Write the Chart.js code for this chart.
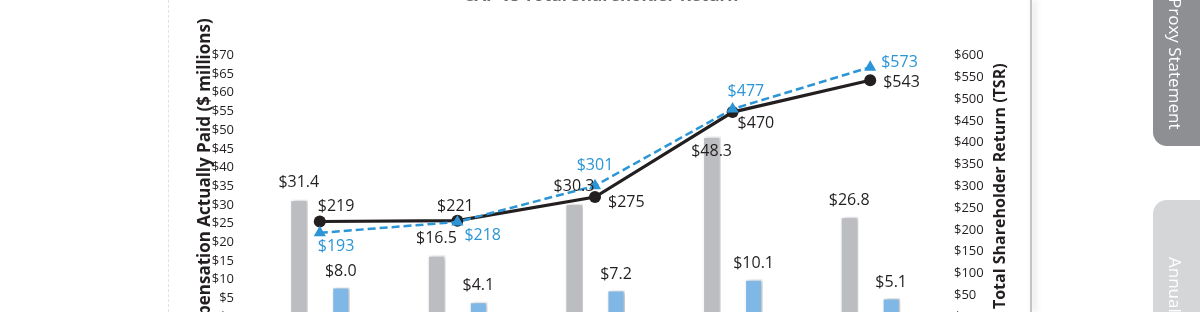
<!DOCTYPE html>
<html>
<head>
<meta charset="utf-8">
<script src="https://cdn.jsdelivr.net/npm/chart.js@4.4.1/dist/chart.umd.min.js"></script>
<style>
  body { margin:0; width:1200px; height:312px; overflow:hidden; background:#fff; position:relative; font-family:"Open Sans", sans-serif; }
  #edgeL { position:absolute; left:168px; top:0; width:0; height:312px; border-left:1px dashed #e2e2e2; }
  #edgeR { position:absolute; left:1030px; top:0; width:2px; height:312px; background:#c4c4c4; box-shadow:3px 0 6px rgba(0,0,0,0.22); }
  #cover { position:absolute; left:1032px; top:0; width:121px; height:312px; background:#fff; }
  #wrap { position:absolute; left:150px; top:-16px; width:902px; height:360px; }
  .tab { position:absolute; left:1153px; width:60px; color:#fff; font-size:17px; writing-mode:vertical-rl; }
  .tab span { position:absolute; left:11px; }
  #tab1 { top:-20px; height:166px; background:#8e8f92; border-bottom-left-radius:14px; }
  #tab1 span { top:18px; }
  #tab2 { top:200px; height:200px; background:#d5d6d8; border-top-left-radius:14px; }
  #tab2 span { top:57px; }
</style>
</head>
<body>
<div id="edgeL"></div>
<div id="wrap"><canvas id="c"></canvas></div>
<div id="cover"></div>
<div id="edgeR"></div>
<div class="tab" id="tab1"><span>Proxy Statement</span></div>
<div class="tab" id="tab2"><span>Annual Report</span></div>
<script>
// data
const years = ['2020', '2021', '2022', '2023', '2024'];
const capCeo = [31.4, 16.5, 30.3, 48.3, 26.8];
const capNeo = [8.0, 4.1, 7.2, 10.1, 5.1];
const tsrCompany = [219, 221, 275, 470, 543];
const tsrPeer = [193, 218, 301, 477, 573];

const dark = '#231f20';
const blue = '#2b95d6';

// label placement: [dx, dy, align]
const companyLabelPos = [[-2,-15,'left'],[-2,-14,'center'],[13,5,'left'],[5,11,'left'],[13,2,'left']];
const peerLabelPos = [[-2,14,'left'],[7,13,'left'],[0,-20,'center'],[-5,-18,'left'],[11,-5,'left']];
const ceoLabelDy = [-17,-17,-17,15,-16];

const barShadow = {
  id: 'barShadow',
  beforeDatasetDraw(chart, args) {
    if (args.meta.type !== 'bar') return;
    const ctx = chart.ctx;
    ctx.save();
    ctx.shadowColor = 'rgba(0,0,0,0.28)';
    ctx.shadowBlur = 4;
    ctx.shadowOffsetX = 2;
  },
  afterDatasetDraw(chart, args) {
    if (args.meta.type === 'bar') chart.ctx.restore();
  }
};

const valueLabels = {
  id: 'valueLabels',
  afterDatasetsDraw(chart) {
    const ctx = chart.ctx;
    ctx.save();
    ctx.font = '16px "Open Sans"';
    ctx.textBaseline = 'middle';
    chart.data.datasets.forEach((ds, i) => {
      const meta = chart.getDatasetMeta(i);
      meta.data.forEach((el, j) => {
        const v = ds.data[j];
        let txt, x = el.x, y = el.y, align = 'center';
        if (ds.type === 'line') {
          const p = (ds.key === 'company' ? companyLabelPos : peerLabelPos)[j];
          txt = '$' + v;
          x += p[0]; y += p[1]; align = p[2];
          ctx.fillStyle = ds.key === 'company' ? dark : blue;
        } else {
          txt = '$' + v.toFixed(1);
          y += ds.key === 'ceo' ? ceoLabelDy[j] : -16;
          ctx.fillStyle = dark;
        }
        ctx.textAlign = align;
        ctx.fillText(txt, x, y);
      });
    });
    ctx.restore();
  }
};

const rightTitle = {
  id: 'rightTitle',
  afterDraw(chart) {
    const s = chart.scales.y1;
    const ctx = chart.ctx;
    ctx.save();
    ctx.translate(s.left + 61, (s.top + s.bottom) / 2);
    ctx.rotate(-Math.PI / 2);
    ctx.font = 'bold 16px "Open Sans"';
    ctx.fillStyle = dark;
    ctx.textAlign = 'center';
    ctx.textBaseline = 'middle';
    ctx.fillText('Total Shareholder Return (TSR)', 0, 0);
    ctx.restore();
  }
};

new Chart(document.getElementById('c'), {
  type: 'bar',
  data: {
    labels: years,
    datasets: [
      { key: 'peer', type: 'line', data: tsrPeer, yAxisID: 'y1', order: 1,
        borderColor: blue, borderWidth: 2.5, borderDash: [8, 4],
        pointStyle: 'triangle', pointRadius: 7, pointBackgroundColor: blue, pointBorderWidth: 0 },
      { key: 'company', type: 'line', data: tsrCompany, yAxisID: 'y1', order: 2,
        borderColor: dark, borderWidth: 3.2,
        pointRadius: 6, pointBackgroundColor: dark, pointBorderWidth: 0 },
      { key: 'ceo', data: capCeo, yAxisID: 'y', order: 3,
        backgroundColor: '#bcbdc0', borderColor: '#fff', borderWidth: 1.5 },
      { key: 'neo', data: capNeo, yAxisID: 'y', order: 3,
        backgroundColor: '#7fb8e6', borderColor: '#fff', borderWidth: 1.5 }
    ]
  },
  options: {
    responsive: true,
    maintainAspectRatio: false,
    animation: false,
    categoryPercentage: 0.61,
    barPercentage: 0.43,
    layout: { padding: { left: 0, right: 0, top: 0, bottom: 27 } },
    plugins: {
      legend: { display: false },
      tooltip: { enabled: false },
      title: {
        display: true,
        text: 'CAP vs Total Shareholder Return',
        color: '#6d6e71',
        font: { family: 'Open Sans', size: 17, weight: 'bold' },
        padding: { top: 2, bottom: 49 }
      }
    },
    scales: {
      x: { display: false },
      y: {
        position: 'left', min: 0, max: 70,
        afterFit(scale) { scale.width = 101; },
        grid: { display: false, drawTicks: false },
        border: { display: false },
        ticks: { stepSize: 5, padding: 17, color: dark,
          font: { family: 'Open Sans', size: 13 },
          callback: v => '$' + v },
        title: { display: true, text: 'Compensation Actually Paid ($ millions)', color: dark,
          font: { family: 'Open Sans', size: 17, weight: 'bold' }, padding: { top: 45 } }
      },
      y1: {
        position: 'right', min: 0, max: 600,
        afterFit(scale) { scale.width = 113; },
        grid: { display: false, drawTicks: false },
        border: { display: false },
        ticks: { stepSize: 50, padding: 15, color: dark,
          font: { family: 'Open Sans', size: 13 },
          callback: v => '$' + v }
      }
    }
  },
  plugins: [barShadow, valueLabels, rightTitle]
});
</script>
</body>
</html>
